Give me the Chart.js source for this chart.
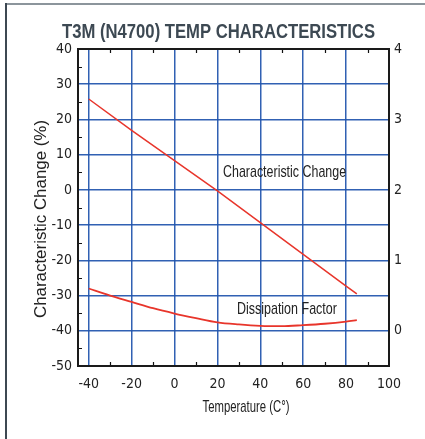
<!DOCTYPE html>
<html>
<head>
<meta charset="utf-8">
<script src="https://cdn.jsdelivr.net/npm/chart.js@4/dist/chart.umd.min.js"></script>
<style>
html,body{margin:0;padding:0;background:#fff;}
#wrap{width:425px;height:439px;position:relative;}
</style>
</head>
<body>
<div id="wrap"><canvas id="c" width="425" height="439"></canvas></div>
<script>
// ---- data ----
const temps = [-40, -20, 0, 20, 40, 60, 80, 85];
const charChange = [25.8, 16.9, 8.3, -0.3, -9.3, -18.3, -27.3, -29.5];
const dfTemps = [-40, -30, -20, -10, 0, 10, 20, 30, 40, 50, 60, 70, 80, 85];
const dissFactor = [0.6, 0.5, 0.41, 0.32, 0.245, 0.18, 0.12, 0.09, 0.07, 0.065, 0.08, 0.1, 0.13, 0.15];
const xTicks = [-40, -20, 0, 20, 40, 60, 80, 100];
const yTicks = [-50, -40, -30, -20, -10, 0, 10, 20, 30, 40];
const y1Ticks = [0, 1, 2, 3, 4];
const xMinor = [-30, -10, 10, 30, 50, 70, 90];
const yMinor = [-45, -35, -25, -15, -5, 5, 15, 25, 35];
const chartTitle = 'T3M (N4700) TEMP CHARACTERISTICS';
const xTitle = 'Temperature (C°)';
const yTitle = 'Characteristic Change (%)';
const noteText = ['Characteristic Change', 'Dissipation Factor'];
const noteX = [51.3, 52.4];
const noteY = [5.1, -33.8];

const TICKFONT = '"DejaVu Sans Condensed", "Liberation Sans", sans-serif';
const TXTFONT = '"Liberation Sans", Arial, sans-serif';
const GRID = 'rgba(32,84,172,0.92)';

// draw text horizontally condensed to a target width (mimics a condensed face)
function condensedText(ctx, text, x, y, font, width, color, rot) {
  ctx.save();
  ctx.font = font;
  ctx.fillStyle = color;
  ctx.textAlign = 'center';
  ctx.textBaseline = 'middle';
  const w = ctx.measureText(text).width;
  ctx.translate(x, y);
  if (rot) ctx.rotate(rot);
  ctx.scale(width / w, 1);
  ctx.fillText(text, 0, 0);
  ctx.restore();
}

const decor = {
  id: 'decor',
  beforeDraw(chart) {
    const ctx = chart.ctx;
    ctx.save();
    ctx.fillStyle = '#fff';
    ctx.fillRect(0, 0, chart.width, chart.height);
    ctx.strokeStyle = '#8c959c';
    ctx.lineWidth = 2;
    ctx.beginPath(); ctx.moveTo(5, 4); ctx.lineTo(425, 4); ctx.stroke();
    ctx.strokeStyle = '#3d4852';
    ctx.beginPath(); ctx.moveTo(6, 3); ctx.lineTo(6, 439); ctx.stroke();
    ctx.restore();
  },
  afterDatasetsDraw(chart) {
    const ctx = chart.ctx, a = chart.chartArea;
    const xs = chart.scales.x, ys = chart.scales.y;
    ctx.save();
    ctx.strokeStyle = '#111';
    ctx.lineWidth = 1.2;
    ctx.beginPath();
    xMinor.forEach(v => {
      const px = Math.round(xs.getPixelForValue(v)) + 0.5;
      ctx.moveTo(px, a.bottom); ctx.lineTo(px, a.bottom - 4);
      ctx.moveTo(px, a.top); ctx.lineTo(px, a.top + 4);
    });
    yMinor.forEach(v => {
      const py = Math.round(ys.getPixelForValue(v)) + 0.5;
      ctx.moveTo(a.left, py); ctx.lineTo(a.left + 4, py);
    });
    ctx.stroke();
    ctx.lineWidth = 2;
    ctx.strokeStyle = '#1a1a1a';
    ctx.strokeRect(a.left, a.top, a.right - a.left, a.bottom - a.top);
    ctx.restore();

    condensedText(ctx, chartTitle, 218.5, 32, 'bold 21px ' + TXTFONT, 313, '#3d4953');
    condensedText(ctx, xTitle, 246, 407, '17px ' + TXTFONT, 87, '#222');
    condensedText(ctx, yTitle, 41, 219, '17px ' + TXTFONT, 198, '#222', -Math.PI / 2);
    const noteW = [123, 100];
    noteText.forEach((t, i) => {
      condensedText(ctx, t, xs.getPixelForValue(noteX[i]), ys.getPixelForValue(noteY[i]),
        '17px ' + TXTFONT, noteW[i], '#222');
    });
  }
};

new Chart(document.getElementById('c'), {
  type: 'line',
  data: {
    datasets: [
      {
        label: 'Characteristic Change',
        data: temps.map((t, i) => ({x: t, y: charChange[i]})),
        borderColor: '#e8352b', borderWidth: 1.5, pointRadius: 0, tension: 0,
        yAxisID: 'y'
      },
      {
        label: 'Dissipation Factor',
        data: dfTemps.map((t, i) => ({x: t, y: dissFactor[i]})),
        borderColor: '#e8352b', borderWidth: 1.8, pointRadius: 0,
        cubicInterpolationMode: 'monotone',
        yAxisID: 'y1'
      }
    ]
  },
  options: {
    responsive: false,
    animation: false,
    layout: {padding: {top: 49, left: 0, right: 0, bottom: 0}},
    plugins: {
      legend: {display: false},
      tooltip: {enabled: false},
      title: {display: false}
    },
    scales: {
      x: {
        type: 'linear', min: -45, max: 100,
        afterBuildTicks: s => { s.ticks = xTicks.map(v => ({value: v})); },
        afterFit: s => { s.height = 73; },
        grid: {color: GRID, lineWidth: 1.5, drawTicks: false},
        border: {display: false},
        ticks: {color: '#222', font: {family: TICKFONT, size: 14}, padding: 10, maxRotation: 0}
      },
      y: {
        type: 'linear', position: 'left', min: -50, max: 40,
        afterBuildTicks: s => { s.ticks = yTicks.map(v => ({value: v})); },
        afterFit: s => { s.width = 78; },
        grid: {color: GRID, lineWidth: 1.5, drawTicks: false},
        border: {display: false},
        ticks: {color: '#222', font: {family: TICKFONT, size: 14}, padding: 6}
      },
      y1: {
        type: 'linear', position: 'right', min: -0.5, max: 4,
        afterBuildTicks: s => { s.ticks = y1Ticks.map(v => ({value: v})); },
        afterFit: s => { s.width = 36; },
        grid: {display: false, drawTicks: false},
        border: {display: false},
        ticks: {color: '#222', font: {family: TICKFONT, size: 14}, padding: 5}
      }
    }
  },
  plugins: [decor]
});
</script>
</body>
</html>
